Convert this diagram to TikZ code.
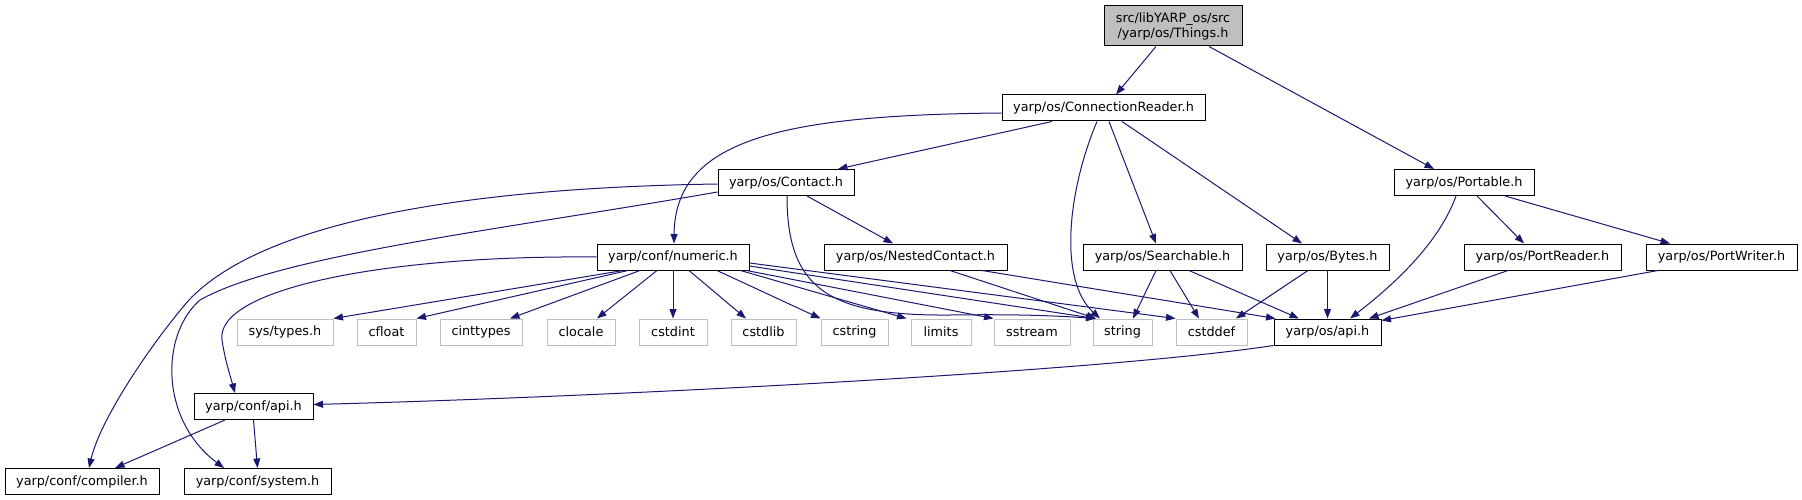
\documentclass[tikz,border=0pt]{standalone}
\usepackage{fontspec}
\setmainfont{DejaVu Sans}
\usetikzlibrary{arrows.meta}
\definecolor{navy}{HTML}{191970}
\definecolor{extgray}{HTML}{BFBFBF}
\tikzset{
  box/.style={draw=black, fill=white, line width=1pt, inner sep=0pt, minimum height=26pt, font=\fontsize{12.8}{15}\selectfont},
  ext/.style={draw=extgray, fill=white, line width=1pt, inner sep=0pt, minimum height=26pt, font=\fontsize{12.8}{15}\selectfont},
  dep/.style={draw=navy, line width=1pt, -{Triangle[length=9.5pt,width=7pt]}},
}
\begin{document}
\begin{tikzpicture}[x=1pt,y=-1pt]
\useasboundingbox (0,0) rectangle (1802,500);
% nodes
\node[box, fill=extgray, minimum width=138pt, minimum height=40pt, align=center] (things) at (1173,26) {src/libYARP\_os/src\\/yarp/os/Things.h};
\node[box, minimum width=203pt] (connreader) at (1103.5,108) {yarp/os/ConnectionReader.h};
\node[box, minimum width=140pt] (portable) at (1464,182.5) {yarp/os/Portable.h};
\node[box, minimum width=136pt] (contact) at (786,182.5) {yarp/os/Contact.h};
\node[box, minimum width=152pt] (numeric) at (673,257) {yarp/conf/numeric.h};
\node[box, minimum width=183pt] (nested) at (915.5,257) {yarp/os/NestedContact.h};
\node[box, minimum width=159pt] (searchable) at (1162.5,257) {yarp/os/Searchable.h};
\node[box, minimum width=123pt] (bytes) at (1327.5,257) {yarp/os/Bytes.h};
\node[box, minimum width=157pt] (portreader) at (1542.5,257) {yarp/os/PortReader.h};
\node[box, minimum width=151pt] (portwriter) at (1721.5,257) {yarp/os/PortWriter.h};
\node[ext, minimum width=96pt] (systypes) at (285,332) {sys/types.h};
\node[ext, minimum width=59pt] (cfloat) at (386.5,332) {cfloat};
\node[ext, minimum width=82pt] (cinttypes) at (481,332) {cinttypes};
\node[ext, minimum width=68pt] (clocale) at (581,332) {clocale};
\node[ext, minimum width=68pt] (cstdint) at (673,332) {cstdint};
\node[ext, minimum width=65pt] (cstdlib) at (763.5,332) {cstdlib};
\node[ext, minimum width=67pt] (cstring) at (854.5,332) {cstring};
\node[ext, minimum width=60pt] (limits) at (941,332) {limits};
\node[ext, minimum width=76pt] (sstream) at (1032,332) {sstream};
\node[ext, minimum width=59pt] (string) at (1122.5,332) {string};
\node[ext, minimum width=71pt] (cstddef) at (1211.5,332) {cstddef};
\node[box, minimum width=107pt] (osapi) at (1327.5,332) {yarp/os/api.h};
\node[box, minimum width=119pt] (confapi) at (253.5,406.5) {yarp/conf/api.h};
\node[box, minimum width=154pt] (compiler) at (82,481.5) {yarp/conf/compiler.h};
\node[box, minimum width=147pt] (system) at (257.5,481.5) {yarp/conf/system.h};
% edges
\draw[dep] ([xshift=-17pt]things.south) -- ([xshift=12.5pt]connreader.north);
\draw[dep] ([xshift=36pt]things.south) -- ([xshift=-30pt]portable.north);
\draw[dep] ([yshift=-5pt]connreader.west) .. controls (780,115) and (675,140) .. ([xshift=1pt]numeric.north);
\draw[dep] ([xshift=-51.5pt]connreader.south) -- ([xshift=52pt]contact.north);
\draw[dep] ([xshift=-6.5pt]connreader.south) .. controls (1068,190) and (1058,280) .. ([xshift=-22.5pt]string.north);
\draw[dep] ([xshift=5.5pt]connreader.south) -- ([xshift=-6.5pt]searchable.north);
\draw[dep] ([xshift=18.5pt]connreader.south) -- ([xshift=-25.5pt]bytes.north);
\draw[dep] ([xshift=-8pt]portable.south) .. controls (1440,240) and (1400,280) .. ([xshift=22.5pt]osapi.north);
\draw[dep] ([xshift=13pt]portable.south) -- ([xshift=-18.5pt]portreader.north);
\draw[dep] ([xshift=41pt]portable.south) -- ([xshift=-51.5pt]portwriter.north);
\draw[dep] ([xshift=-34.5pt]portreader.south) -- ([xshift=41.5pt]osapi.north);
\draw[dep] ([xshift=-63.5pt]portwriter.south) -- ([yshift=-2pt]osapi.north east);
\draw[dep] ([xshift=-19.5pt]bytes.south) -- ([xshift=24.5pt]cstddef.north);
\draw[dep] (bytes.south) -- (osapi.north);
\draw[dep] ([xshift=-6.5pt]searchable.south) -- ([xshift=10.5pt]string.north);
\draw[dep] ([xshift=7.5pt]searchable.south) -- ([xshift=-12.5pt]cstddef.north);
\draw[dep] ([xshift=26.5pt]searchable.south) -- ([xshift=-28.5pt]osapi.north);
\draw[dep] ([xshift=34.5pt]nested.south) -- ([xshift=-26.5pt]string.north);
\draw[dep] ([xshift=66.5pt]nested.south) -- ([xshift=2pt]osapi.north west);
\draw[dep] ([xshift=21pt]contact.south) -- ([xshift=-22.5pt]nested.north);
\draw[dep] ([xshift=1pt]contact.south) .. controls (787,290) and (830,316) .. (950,315) .. controls (1020,314) and (1060,316) .. ([xshift=-27pt]string.north);
\draw[dep] ([yshift=-1.5pt]contact.west) .. controls (450,188) and (260,225) .. (189,300) .. controls (150,345) and (100,420) .. ([xshift=7pt]compiler.north);
\draw[dep] ([yshift=-9.5pt]contact.west) .. controls (500,230) and (280,255) .. (200,300) .. controls (160,335) and (160,420) .. ([xshift=-33.5pt]system.north);
\draw[dep] (numeric.west) .. controls (380,255) and (215,290) .. (222,340) .. controls (225,360) and (230,375) .. ([xshift=-18.5pt]confapi.north);
\draw[dep] ([xshift=-50pt]numeric.south) -- (systypes.north east);
\draw[dep] ([xshift=-45pt]numeric.south) -- (cfloat.north east);
\draw[dep] ([xshift=-33pt]numeric.south) -- ([xshift=29pt]cinttypes.north);
\draw[dep] ([xshift=-16pt]numeric.south) -- ([xshift=16pt]clocale.north);
\draw[dep] (numeric.south) -- (cstdint.north);
\draw[dep] ([xshift=16pt]numeric.south) -- ([xshift=-17.5pt]cstdlib.north);
\draw[dep] ([xshift=44pt]numeric.south) -- (cstring.north west);
\draw[dep] ([xshift=-9pt]numeric.south east) -- ([xshift=-4pt]limits.north west);
\draw[dep] ([xshift=-3pt]numeric.south east) -- (sstream.north west);
\draw[dep] ([yshift=-9pt]numeric.east) -- ([xshift=-27pt]string.north);
\draw[dep] ([yshift=-6pt]numeric.east) -- (cstddef.north west);
\draw[dep] (osapi.south west) .. controls (1100,372) and (600,397) .. ([yshift=2pt]confapi.east);
\draw[dep] ([xshift=-28.5pt]confapi.south) -- ([xshift=33pt]compiler.north);
\draw[dep] (confapi.south) -- (system.north);
\end{tikzpicture}
\end{document}
